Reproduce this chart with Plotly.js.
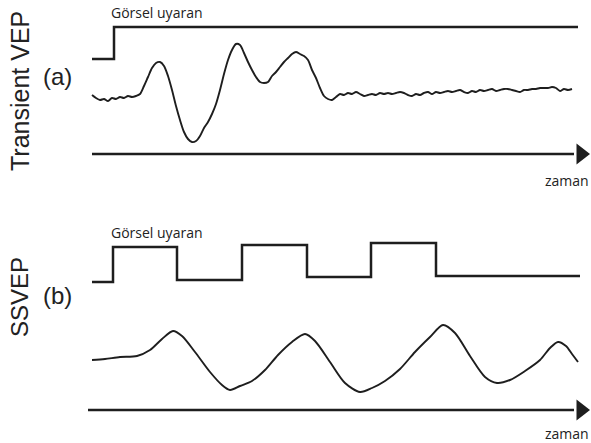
<!DOCTYPE html>
<html><head><meta charset="utf-8">
<script src="https://cdn.plot.ly/plotly-3.0.1.min.js"></script>
<style>html,body{margin:0;padding:0;background:#fff}#c{width:591px;height:443px}</style>
</head><body><div id="c"></div>
<script>
// Panel (a): transient VEP
const stimTimeA = [92, 114, 114, 578];
const stimLevelA = [59, 59, 27, 27];
const vepTime = [92,96,100,104,108,112,116,120,124,128,132,136,140,144,148,152,156,160,164,168,172,176,180,184,188,192,196,200,204,208,212,216,220,224,228,232,236,240,244,248,252,256,260,264,268,272,276,280,284,288,292,296,300,304,308,312,316,320,324,328,332,336,340,344,348,352,356,360,364,368,372,376,380,384,388,392,396,400,404,408,412,416,420,424,428,432,436,440,444,448,452,456,460,464,468,472,476,480,484,488,492,496,500,504,508,512,516,520,524,528,532,536,540,544,548,552,556,560,564,568,572];
const vepAmp = [95,98,100,99,101,98,99,97,98,96,97,96,94,86,77,68,63,62,66,76,90,106,120,132,139,142,141,136,128,122,114,104,90,74,60,50,44,45,53,62,70,77,82,83,82,76,72,67,62,58,54,52,54,56,60,70,78,88,96,99,100,97,94,95,93,94,92,94,96,95,94,95,93,94,93,94,93,92,93,95,96,94,95,93,92,94,92,93,92,91,92,91,90,92,93,91,92,90,91,90,89,91,90,89,89,90,91,92,90,90,89,89,88,88,88,87,88,91,89,90,89];
const axisA = {start: 92, end: 590, level: 154};

// Panel (b): SSVEP
const stimTimeB = [92, 113, 113, 177, 177, 242, 242, 307, 307, 371, 371, 436, 436, 580];
const stimLevelB = [282, 282, 247, 247, 280, 280, 245, 245, 277, 277, 243, 243, 276, 276];
const ssvepTime = [92,105,120,137,150,162,173,182,195,210,222,230,240,252,265,278,292,305,315,330,345,360,372,385,400,415,430,443,455,470,485,497,510,525,540,550,558,566,572,578];
const ssvepAmp = [360,359,357,356,350,339,331,336,352,372,385,390,386,381,370,355,342,334,341,362,383,392,388,381,369,352,337,325,333,356,377,383,380,371,360,348,342,346,354,362];
const axisB = {start: 88, end: 590, level: 410};

const ink = '#1e1e1e';
const traces = [
  {x: stimTimeA, y: stimLevelA, mode: 'lines', line: {color: ink, width: 2.5}},
  {x: vepTime, y: vepAmp, mode: 'lines', line: {color: ink, width: 1.9, shape: 'spline', smoothing: 0.8}},
  {x: [axisA.start, axisA.end - 16], y: [axisA.level, axisA.level], mode: 'lines', line: {color: ink, width: 2.5}},
  {x: [axisA.end - 9], y: [axisA.level], mode: 'markers', marker: {symbol: 'triangle-right', size: 18, color: ink}},
  {x: stimTimeB, y: stimLevelB, mode: 'lines', line: {color: ink, width: 2.5}},
  {x: ssvepTime, y: ssvepAmp, mode: 'lines', line: {color: ink, width: 1.9, shape: 'spline', smoothing: 0.8}},
  {x: [axisB.start, axisB.end - 16], y: [axisB.level, axisB.level], mode: 'lines', line: {color: ink, width: 2.5}},
  {x: [axisB.end - 9], y: [axisB.level], mode: 'markers', marker: {symbol: 'triangle-right', size: 18, color: ink}}
];

const sans = 'Liberation Sans, Arial, sans-serif';
const small = 'Open Sans, sans-serif';
const layout = {
  width: 591, height: 443,
  margin: {l: 0, r: 0, t: 0, b: 0},
  paper_bgcolor: '#fff', plot_bgcolor: '#fff',
  showlegend: false,
  xaxis: {range: [0, 591], visible: false, fixedrange: true},
  yaxis: {range: [443, 0], visible: false, fixedrange: true},
  annotations: [
    {x: 109, y: 12, text: 'Görsel uyaran', showarrow: false, xanchor: 'left', yanchor: 'middle', font: {family: small, size: 14, color: '#222'}},
    {x: 109, y: 232, text: 'Görsel uyaran', showarrow: false, xanchor: 'left', yanchor: 'middle', font: {family: small, size: 14, color: '#222'}},
    {x: 567, y: 180, text: 'zaman', showarrow: false, xanchor: 'center', yanchor: 'middle', font: {family: small, size: 14, color: '#222'}},
    {x: 567, y: 433, text: 'zaman', showarrow: false, xanchor: 'center', yanchor: 'middle', font: {family: small, size: 14, color: '#222'}},
    {x: 57, y: 76, text: '(a)', showarrow: false, xanchor: 'center', yanchor: 'middle', font: {family: sans, size: 24, color: '#222'}},
    {x: 57, y: 295, text: '(b)', showarrow: false, xanchor: 'center', yanchor: 'middle', font: {family: sans, size: 24, color: '#222'}},
    {x: 20, y: 91, text: 'Transient VEP', textangle: -90, showarrow: false, xanchor: 'center', yanchor: 'middle', font: {family: sans, size: 25, color: '#222'}},
    {x: 19, y: 297, text: 'SSVEP', textangle: -90, showarrow: false, xanchor: 'center', yanchor: 'middle', font: {family: sans, size: 24, color: '#222'}}
  ]
};
Plotly.newPlot('c', traces, layout, {staticPlot: true, displayModeBar: false});
</script></body></html>
